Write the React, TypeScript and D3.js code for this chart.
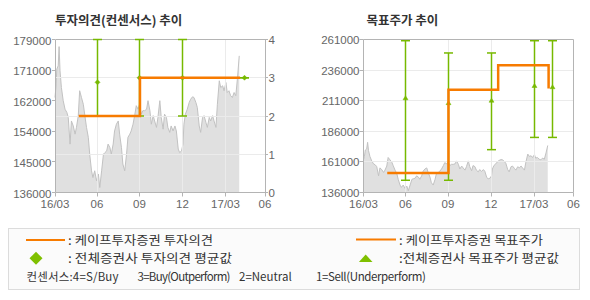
import React from "react";
import * as d3 from "d3";

// ---------- data ----------
const monthTicks = ["2016-03-01", "2016-06-01", "2016-09-01", "2016-12-01", "2017-03-01", "2017-06-01"];
const monthLabels = ["16/03", "06", "09", "12", "17/03", "06"];

const priceDates = [
  "2016-03-01","2016-03-03","2016-03-05","2016-03-08","2016-03-10","2016-03-12","2016-03-15","2016-03-19","2016-03-23","2016-03-27",
  "2016-03-30","2016-04-03","2016-04-06","2016-04-10","2016-04-14","2016-04-17","2016-04-21","2016-04-24","2016-04-28","2016-05-02",
  "2016-05-05","2016-05-09","2016-05-13","2016-05-16","2016-05-20","2016-05-23","2016-05-27","2016-05-31","2016-06-04","2016-06-07",
  "2016-06-11","2016-06-15","2016-06-18","2016-06-22","2016-06-25","2016-06-29","2016-07-02","2016-07-06","2016-07-09","2016-07-13",
  "2016-07-17","2016-07-20","2016-07-24","2016-07-27","2016-07-31","2016-08-04","2016-08-07","2016-08-11","2016-08-14","2016-08-18",
  "2016-08-22","2016-08-25","2016-08-29","2016-09-01","2016-09-05","2016-09-08","2016-09-12","2016-09-16","2016-09-19","2016-09-23",
  "2016-09-26","2016-09-30","2016-10-03","2016-10-07","2016-10-10","2016-10-14","2016-10-17","2016-10-21","2016-10-24","2016-10-28",
  "2016-10-31","2016-11-04","2016-11-07","2016-11-11","2016-11-15","2016-11-18","2016-11-22","2016-11-25","2016-11-29","2016-12-02",
  "2016-12-04","2016-12-07","2016-12-11","2016-12-15","2016-12-18","2016-12-22","2016-12-25","2016-12-29","2017-01-01","2017-01-05",
  "2017-01-08","2017-01-12","2017-01-15","2017-01-19","2017-01-22","2017-01-26","2017-01-29","2017-02-02","2017-02-05","2017-02-09",
  "2017-02-12","2017-02-16","2017-02-19","2017-02-23","2017-02-26","2017-03-02","2017-03-05","2017-03-09","2017-03-13","2017-03-17",
  "2017-03-21","2017-03-25","2017-03-29","2017-04-02",
];
const priceValues = [
  162700,165500,170700,171600,177000,170200,165500,161800,159400,158500,
  157100,149600,156100,154700,152400,154300,157600,164600,162700,160800,
  158000,154300,151500,146800,142100,140200,142100,139300,141200,137400,
  142100,146800,147200,147700,149600,148600,146800,149600,153300,155200,
  156100,152400,148600,144000,142100,146800,151500,152400,153300,155200,
  158000,160400,159400,160800,158000,159000,159000,159400,161800,159000,
  155200,157600,156100,154300,157100,161800,157100,153800,158000,157100,
  154300,152900,154700,153300,154700,153300,148200,147200,147700,149600,
  155200,158000,159400,161300,162200,162900,162700,161300,159900,154700,
  152900,157100,157600,155700,154300,157100,156100,157600,156100,154300,
  160800,167400,165500,166000,164600,166900,164100,164600,163200,162700,
  164100,163200,168300,174400,
];

// KAPE investment opinion (step line)
const opinionDates = ["2016-04-22", "2016-09-02", "2017-04-04"];
const opinionValues = [2, 3, 3];
// KAPE target price (step line)
const targetDates = ["2016-04-22", "2016-09-02", "2016-12-16", "2017-04-04"];
const targetValues = [152000, 220000, 240000, 221000];

// consensus: opinion
const consOpDates = ["2016-06-01", "2016-09-01", "2016-12-01", "2017-04-14"];
const consOpMin = [2, 2, 2, 3];
const consOpMax = [4, 4, 4, 3];
const consOpAvg = [2.88, 3, 3, 3];
// consensus: target price
const consTpDates = ["2016-06-01", "2016-09-01", "2016-12-01", "2017-03-01", "2017-04-14"];
const consTpMin = [146000, 146000, 171000, 181000, 181000];
const consTpMax = [260000, 250000, 250000, 260000, 260000];
const consTpAvg = [213000, 209000, 211000, 223000, 222000];

const leftPriceTickLabels = ["136000", "145000", "154000", "162000", "171000", "179000"];
const leftPriceDomain = [136000, 179000];
const opinionTicks = [0, 1, 2, 3, 4];
const rightPriceTicks = [136000, 161000, 186000, 211000, 236000, 261000];

const consensusNotes = ["컨센서스:4=S/Buy", "3=Buy(Outperform)", "2=Neutral", "1=Sell(Underperform)"];

// ---------- style ----------
const ORANGE = "#f77b00";
const GREEN = "#77b900";
const AXIS = "#b4b4b4";
const GRID = "#ebebeb";
const LABEL = "#666";
const TICKFONT = "'Liberation Sans', Arial, sans-serif";
const KFONT = "'Noto Sans CJK KR', 'Noto Sans', sans-serif";

const parse = d3.timeParse("%Y-%m-%d");
const priceData = priceDates.map((d, i) => ({ date: parse(d) as Date, v: priceValues[i] }));

const TOP = 39.5;
const BOTTOM = 192.5;
const WIDTH = 210;
const xBreaks = [0, 42, 84.5, 127.5, 170.5, 210];
const cr = (v: number) => Math.round(v - 0.5) + 0.5;

function makeX(left: number) {
  return d3
    .scaleTime()
    .domain(monthTicks.map((d) => parse(d) as Date))
    .range(xBreaks.map((b) => left + b));
}

function PriceArea({ x, y }: { x: any; y: any }) {
  const area = d3
    .area<{ date: Date; v: number }>()
    .x((d) => x(d.date))
    .y0(BOTTOM)
    .y1((d) => y(d.v));
  const line = d3
    .line<{ date: Date; v: number }>()
    .x((d) => x(d.date))
    .y((d) => y(d.v));
  return (
    <g>
      <path d={area(priceData) || ""} fill="#e0e0e0" />
      <path d={line(priceData) || ""} fill="none" stroke="#c2c2c2" strokeWidth={1} />
    </g>
  );
}

function XAxis({ x }: { x: any }) {
  return (
    <g>
      {monthTicks.map((m, i) => {
        const px = cr(x(parse(m)));
        return (
          <g key={i}>
            {i > 0 && i < monthTicks.length - 1 && (
              <line x1={px} x2={px} y1={TOP} y2={BOTTOM} stroke={GRID} strokeWidth={1} />
            )}
            <line x1={px} x2={px} y1={BOTTOM} y2={BOTTOM + 4} stroke={AXIS} />
            <text
              x={x(parse(m))}
              y={208}
              textAnchor="middle"
              fontFamily={TICKFONT}
              fontSize={11.5}
              fill={LABEL}
            >
              {monthLabels[i]}
            </text>
          </g>
        );
      })}
    </g>
  );
}

function Frame({ left }: { left: number }) {
  const r = left + WIDTH;
  return (
    <g fill="none" stroke={AXIS} strokeWidth={1}>
      <line x1={cr(left)} x2={cr(r)} y1={TOP} y2={TOP} />
      <line x1={cr(left)} x2={cr(r)} y1={BOTTOM} y2={BOTTOM} />
      <line x1={cr(left)} x2={cr(left)} y1={TOP} y2={BOTTOM} />
      <line x1={cr(r)} x2={cr(r)} y1={TOP} y2={BOTTOM} />
    </g>
  );
}

function LeftChart() {
  const left = 55;
  const x = makeX(left);
  const yP = d3.scaleLinear().domain(leftPriceDomain).range([BOTTOM, TOP]);
  const yO = d3.scaleLinear().domain([0, 4]).range([BOTTOM, TOP]);
  const step = (leftPriceDomain[1] - leftPriceDomain[0]) / (leftPriceTickLabels.length - 1);
  const opLine = d3
    .line<number>()
    .x((_, i) => x(parse(opinionDates[i])))
    .y((d) => yO(d))
    .curve(d3.curveStepAfter);
  return (
    <g>
      <text x={55} y={25} fontFamily={KFONT} fontWeight="bold" fontSize={12.5} fill="#333">
        투자의견(컨센서스) 추이
      </text>
      <PriceArea x={x} y={yP} />
      {opinionTicks.slice(1, -1).map((t) => (
        <line key={t} x1={left} x2={left + WIDTH} y1={cr(yO(t))} y2={cr(yO(t))} stroke={GRID} />
      ))}
      <XAxis x={x} />
      <Frame left={left} />
      {leftPriceTickLabels.map((lab, i) => {
        const py = yP(leftPriceDomain[0] + i * step);
        return (
          <g key={lab}>
            <line x1={left - 3} x2={left} y1={cr(py)} y2={cr(py)} stroke={AXIS} />
            <text
              x={51.5}
              y={py + 5}
              textAnchor="end"
              fontFamily={TICKFONT}
              fontSize={11.5}
              fill={LABEL}
            >
              {lab}
            </text>
          </g>
        );
      })}
      {opinionTicks.map((t) => (
        <g key={t}>
          <line x1={left + WIDTH} x2={left + WIDTH + 3} y1={cr(yO(t))} y2={cr(yO(t))} stroke={AXIS} />
          <text x={268.5} y={yO(t) + 4.5} fontFamily={TICKFONT} fontSize={11.5} fill={LABEL}>
            {t}
          </text>
        </g>
      ))}
      {consOpDates.map((d, i) => {
        const cx = cr(x(parse(d)));
        const y1 = yO(consOpMax[i]);
        const y2 = yO(consOpMin[i]);
        const ya = yO(consOpAvg[i]);
        return (
          <g key={d} stroke={GREEN} strokeWidth={1.5} fill={GREEN}>
            <line x1={cx} x2={cx} y1={y1} y2={y2} />
            <line x1={cx - 4.5} x2={cx + 4.5} y1={y1} y2={y1} />
            <line x1={cx - 4.5} x2={cx + 4.5} y1={y2} y2={y2} />
            <path d={`M${cx},${ya - 2.5}L${cx + 2.5},${ya}L${cx},${ya + 2.5}L${cx - 2.5},${ya}Z`} strokeWidth={0.5} />
          </g>
        );
      })}
      <path d={opLine(opinionValues) || ""} fill="none" stroke={ORANGE} strokeWidth={2.5} />
    </g>
  );
}

function RightChart() {
  const left = 363.5;
  const x = makeX(left);
  const y = d3
    .scaleLinear()
    .domain([rightPriceTicks[0], rightPriceTicks[rightPriceTicks.length - 1]])
    .range([BOTTOM, TOP]);
  const tpLine = d3
    .line<number>()
    .x((_, i) => x(parse(targetDates[i])))
    .y((d) => y(d))
    .curve(d3.curveStepAfter);
  return (
    <g>
      <text x={366.5} y={25} fontFamily={KFONT} fontWeight="bold" fontSize={12.5} fill="#333">
        목표주가 추이
      </text>
      <PriceArea x={x} y={y} />
      {rightPriceTicks.slice(1, -1).map((t) => (
        <line key={t} x1={left} x2={left + WIDTH} y1={cr(y(t))} y2={cr(y(t))} stroke={GRID} />
      ))}
      <XAxis x={x} />
      <Frame left={left} />
      {rightPriceTicks.map((t) => (
        <g key={t}>
          <line x1={left - 4} x2={left} y1={cr(y(t))} y2={cr(y(t))} stroke={AXIS} />
          <text
            x={359.5}
            y={y(t) + 4.5}
            textAnchor="end"
            fontFamily={TICKFONT}
            fontSize={11.5}
            fill={LABEL}
          >
            {t}
          </text>
        </g>
      ))}
      {consTpDates.map((d, i) => {
        const cx = cr(x(parse(d)));
        const y1 = y(consTpMax[i]);
        const y2 = y(consTpMin[i]);
        const ya = y(consTpAvg[i]);
        return (
          <g key={d} stroke={GREEN} strokeWidth={1.5} fill={GREEN}>
            <line x1={cx} x2={cx} y1={y1} y2={y2} />
            <line x1={cx - 4.5} x2={cx + 4.5} y1={y1} y2={y1} />
            <line x1={cx - 4.5} x2={cx + 4.5} y1={y2} y2={y2} />
            <path d={`M${cx},${ya - 2.5}L${cx + 2.5},${ya + 1.5}L${cx - 2.5},${ya + 1.5}Z`} strokeWidth={0.5} />
          </g>
        );
      })}
      <path d={tpLine(targetValues) || ""} fill="none" stroke={ORANGE} strokeWidth={2.5} />
    </g>
  );
}

function Legend() {
  const fs = 12;
  const noteX = [26.5, 137.5, 239, 316];
  const noteW = [92, 93, 0, 110];
  return (
    <g fontFamily={KFONT} fill="#333">
      <rect x={8.5} y={228.5} width={571} height={61} fill="#fbfbfb" stroke="#dcdcdc" />
      <line x1={26} x2={65} y1={240} y2={240} stroke={ORANGE} strokeWidth={2} />
      <text x={68} y={244.5} fontSize={fs} textLength={145} lengthAdjust="spacingAndGlyphs">
        : 케이프투자증권 투자의견
      </text>
      <path d="M36,251.8L42.5,258.3L36,264.8L29.5,258.3Z" fill="#7fc000" />
      <text x={68} y={262.8} fontSize={fs} textLength={164} lengthAdjust="spacingAndGlyphs">
        : 전체증권사 투자의견 평균값
      </text>
      <line x1={356} x2={396} y1={239.5} y2={239.5} stroke={ORANGE} strokeWidth={2} />
      <text x={399} y={244.5} fontSize={fs} textLength={144} lengthAdjust="spacingAndGlyphs">
        : 케이프투자증권 목표주가
      </text>
      <path d="M365.7,254.5L372.5,262L358.9,262Z" fill="#7fc000" />
      <text x={399} y={262.8} fontSize={fs} textLength={160} lengthAdjust="spacingAndGlyphs">
        :전체증권사 목표주가 평균값
      </text>
      <g fontSize={11.5}>
        {consensusNotes.map((n, i) =>
          noteW[i] > 0 ? (
            <text key={n} x={noteX[i]} y={281} textLength={noteW[i]} lengthAdjust="spacing">
              {n}
            </text>
          ) : (
            <text key={n} x={noteX[i]} y={281}>
              {n}
            </text>
          )
        )}
      </g>
    </g>
  );
}

export default function App() {
  return (
    <svg
      width={590}
      height={300}
      viewBox="0 0 590 300"
      style={{ position: "absolute", left: 0, top: 0, background: "#fff" }}
    >
      <rect x={0} y={0} width={590} height={300} fill="#fff" />
      <LeftChart />
      <RightChart />
      <Legend />
    </svg>
  );
}
